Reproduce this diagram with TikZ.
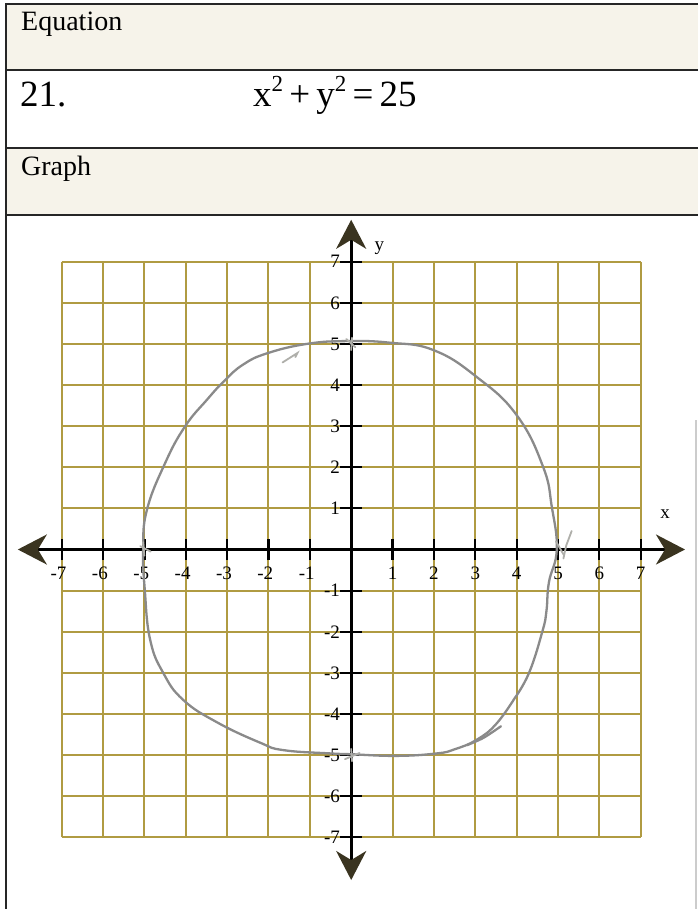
\documentclass[tikz,border=0pt]{standalone}
\usepackage{fontspec}
\setmainfont{Liberation Serif}
\usetikzlibrary{arrows.meta}
\definecolor{gridc}{RGB}{176,155,66}
\definecolor{pencil}{RGB}{138,138,138}
\definecolor{pencillight}{RGB}{175,175,170}
\definecolor{shadec}{RGB}{246,243,234}
\definecolor{arrowc}{RGB}{58,52,32}
\begin{document}
\begin{tikzpicture}[x=1pt,y=-1pt,
  tableline/.style={draw=black!85, line width=1.6pt},
  gridline/.style={draw=gridc, line width=2pt},
  axisline/.style={draw=black, line width=2.8pt,
    {Stealth[length=29pt,width=30pt,inset=9pt,fill=arrowc,color=arrowc]}-{Stealth[length=29pt,width=30pt,inset=9pt,fill=arrowc,color=arrowc]}},
  tickmark/.style={draw=black, line width=2.2pt},
  ticklab/.style={inner sep=0pt, font=\fontsize{19}{21}\selectfont, text=black},
  axislab/.style={inner sep=0pt, font=\fontsize{19}{21}\selectfont},
  headtext/.style={inner sep=0pt, anchor=base west, font=\fontsize{28}{32}\selectfont},
  bigtext/.style={inner sep=0pt, anchor=base west, font=\fontsize{37}{40}\selectfont},
  curve/.style={draw=pencil, line width=2.3pt, line cap=round, line join=round},
  scribble/.style={draw=pencillight, line width=1.8pt, line cap=round}]
\useasboundingbox (0,0) rectangle (698,909);
\fill[white] (0,0) rectangle (698,909);
% table
\fill[shadec] (6,4) rectangle (698,70);
\fill[shadec] (6,148) rectangle (698,215);
\draw[tableline] (698,4) -- (6,4) -- (6,909);
\draw[tableline] (6,70) -- (698,70);
\draw[tableline] (6,148) -- (698,148);
\draw[tableline] (6,215) -- (698,215);
\draw[draw=black!20, line width=1.2pt] (696,420) -- (696,909);
\node[headtext] (hEq) at (21,31) {Equation};
\node[bigtext] (num) at (20,107) {21.};
\node[bigtext] (eq) at (253,107) {x\raisebox{0.42em}{\fontsize{23}{23}\selectfont 2}\,+\,y\raisebox{0.42em}{\fontsize{23}{23}\selectfont 2}\,=\,25};
\node[headtext] (hGr) at (21,176) {Graph};
% graph
\begin{scope}[shift={(351.2,549.5)}, x=41.36pt, y=41.11pt]
  \foreach \i in {-7,...,7} {
    \draw[gridline] (\i,-7) -- (\i,7);
    \draw[gridline] (-7,\i) -- (7,\i);
  }
  \coordinate (xL) at (-8.06,0);
  \coordinate (xR) at (8.07,0);
  \coordinate (yT) at (0,8.02);
  \coordinate (yB) at (0,-8.04);
  \draw[axisline] (xL) -- (xR);
  \draw[axisline] (yB) -- (yT);
  \foreach \i in {-7,...,-1,1,2,...,7} {
    \draw[tickmark] (\i,-0.26) -- (\i,0.26);
    \draw[tickmark] (-0.27,\i) -- (0.27,\i);
  }
  \foreach \i [count=\k] in {1,...,7} {
    \node[ticklab] (xp\k) at (\i,-0.57) {\i};
    \node[ticklab] (xn\k) at (-\i,-0.57) {\llap{-}\i};
    \node[ticklab, anchor=east] (yp\k) at (-0.27,\i) {\i};
    \node[ticklab, anchor=east] (yn\k) at (-0.27,-\i) {-\i};
  }
  \node[axislab] (xlab) at (7.59,0.86) {x};
  \node[axislab] (ylab) at (0.68,7.32) {y};
  % hand-drawn circle
  \draw[curve] plot[smooth, tension=0.75] coordinates {
    (3.95,-3.62) (3.5,-4.25) (3.03,-4.63) (2.5,-4.86) (2.07,-4.96)
    (1.1,-5.02) (0,-4.98) (-0.51,-4.96) (-1.64,-4.88) (-2.2,-4.7)
    (-3.25,-4.2) (-4.06,-3.66) (-4.54,-3.01) (-4.86,-2.2) (-4.99,-0.99)
    (-5.03,0) (-4.94,0.96) (-4.5,2.1) (-4.02,2.99) (-3.49,3.64)
    (-3.05,4.12) (-2.61,4.5) (-2.04,4.77) (-1.08,5.0) (-0.11,5.07)
    (0.94,5.03) (1.99,4.85) (3.03,4.2) (4.0,3.27) (4.64,2.01)
    (4.85,1.04) (4.97,0) (4.78,-0.8) (4.72,-1.5) (4.62,-2)
    (4.3,-3) (3.95,-3.62)};
  \draw[curve] plot[smooth] coordinates {(3.62,-4.3) (3.2,-4.58) (2.8,-4.76)};
  % small pencil marks
  \draw[scribble] (-1.66,4.55) -- (-1.3,4.78) -- (-1.35,4.68);
  \draw[scribble] (5.33,0.45) -- (5.2,0.1) -- (5.13,-0.22);
  \draw[scribble] (4.95,0.2) -- (5.15,-0.15);
  \draw[scribble] (-5.1,0.08) -- (-4.85,-0.05);
  \draw[scribble] (-5.03,0.18) -- (-5.0,-0.15);
  \draw[scribble] (-0.12,5.12) -- (0.1,4.92);
  \draw[scribble] (0.02,5.15) -- (0.0,4.85);
  \draw[scribble] (-0.15,-5.1) -- (0.2,-4.95);
  \draw[scribble] (0.0,-4.85) -- (0.02,-5.15);
\end{scope}
\end{tikzpicture}
\end{document}
